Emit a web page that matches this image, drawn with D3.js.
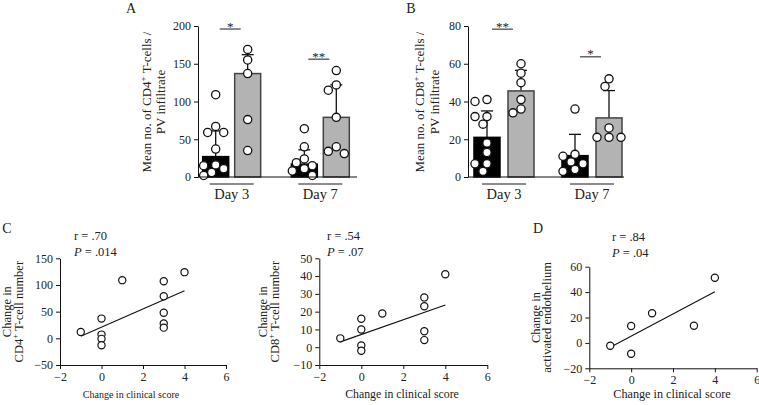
<!DOCTYPE html>
<html><head><meta charset="utf-8">
<script src="https://cdn.jsdelivr.net/npm/d3@7"></script>
<style>
body{margin:0;background:#fff}
svg{display:block}
svg text{font-family:"Liberation Serif","DejaVu Serif","Noto Serif",Times,serif !important;fill:#222}
</style>
</head><body>
<svg id="c" width="759" height="405" font-family="Liberation Serif, DejaVu Serif, serif"></svg>
<script>
// ---------- DATA ----------
const days = ["Day 3", "Day 7"];
const groups = ["ctrl", "trt"];

// Panel A (CD4+ T-cells / PV infiltrate)
const aTicks = [0, 50, 100, 150, 200];
const aCtrlMean = [27, 17];
const aCtrlSD = [34, 19];
const aTrtMean = [137, 79];
const aTrtSD = [25, 43];
const aCtrlPts = [[109, 67, 59, 59, 37, 16, 15, 11, 6, 2], [64, 40, 24, 19, 15, 11, 8, 2]];
const aTrtPts = [[169, 155, 137, 76, 35], [141, 122, 115, 79, 40, 34, 31]];
const aSigLabels = ["*", "**"];
const aSigValues = [196, 156];

// Panel B (CD8+ T-cells / PV infiltrate)
const bTicks = [0, 20, 40, 60, 80];
const bCtrlMean = [21, 11.3];
const bCtrlSD = [14, 11.3];
const bTrtMean = [45.6, 31.3];
const bTrtSD = [10.9, 14.5];
const bCtrlPts = [[41, 40, 32, 32, 28, 18, 13, 7, 7, 3], [36, 12, 11, 8, 7, 4, 3]];
const bTrtPts = [[60, 55, 50, 41, 36, 34], [52, 48, 26, 21, 21, 21]];
const bSigLabels = ["**", "*"];
const bSigValues = [78.3, 63.7];

// Scatter panels
const scatterXTicks = [-2, 0, 2, 4, 6];
const cX = [-1, 0, 0, 0, 0, 1, 3, 3, 3, 3, 3, 4];
const cY = [12, 37, 7, -1, -13, 109, 107, 79, 48, 28, 20, 124];
const cFitX = [-1, 4];
const cFitY = [4, 89];
const cTicks = [-50, 0, 50, 100, 150];

const mX = [-1, 0, 0, 0, 0, 1, 3, 3, 3, 3, 4];
const mY = [5, 16, 10, 1, -2, 19, 28, 23, 9, 4, 41];
const mFitX = [-1, 4];
const mFitY = [3, 23.7];
const mTicks = [-10, 0, 10, 20, 30, 40, 50];

const dX = [-1, 0, 0, 1, 3, 4];
const dY = [-2.3, -8.5, 13.3, 23.3, 13.5, 51.3];
const dFitX = [-1, 4];
const dFitY = [-3.5, 40.3];
const dTicks = [-20, 0, 20, 40, 60];

// ---------- DRAW ----------
const svg = d3.select("#c");
const TICK_FS = 12, BAR_LABEL_FS = 13, DAY_FS = 14.5, SC_LABEL_FS = 12.5;

function styleAxis(g) {
  g.attr("font-family", null).attr("font-size", null);
  g.selectAll("path,line").attr("stroke", "#111").attr("stroke-width", 1);
  g.selectAll("text").attr("font-size", TICK_FS).attr("fill", "#222");
}

function swarm(vals, y, cx, r) {
  const placed = [];
  const pts = vals.map(v => ({ v, py: y(v), px: null })).sort((a, b) => a.py - b.py);
  const offs = [0, -4, 4, -8, 8, -12, 12];
  for (const p of pts) {
    for (const o of offs) {
      const px = cx + o;
      if (placed.every(q => Math.hypot(q.px - px, q.py - p.py) >= 2 * r + 0.5)) { p.px = px; break; }
    }
    if (p.px === null) p.px = cx;
    placed.push(p);
  }
  return placed;
}

function rotLabel(x, y, parts, fs) {
  const t = svg.append("text").attr("transform", `translate(${x},${y}) rotate(-90)`)
    .attr("text-anchor", "middle").attr("font-size", fs);
  parts.forEach(p => {
    const s = t.append("tspan").text(p.t);
    if (p.sup) s.attr("font-size", fs * 0.7).attr("dy", -fs * 0.4);
    if (p.after) s.attr("dy", fs * 0.4);
  });
}

function barPanel(o) {
  const y = d3.scaleLinear().domain([0, o.yMax]).range([177, 26]);
  const x0 = d3.scaleBand().domain(days).range(o.xRange).paddingInner(o.pi).paddingOuter(o.po);
  const x1 = d3.scaleBand().domain(groups).range([0, x0.bandwidth()]).paddingInner(o.pi1);
  const g = svg.append("g");
  const mean = { ctrl: o.ctrlMean, trt: o.trtMean };
  const sd = { ctrl: o.ctrlSD, trt: o.trtSD };
  const pts = { ctrl: o.ctrlPts, trt: o.trtPts };

  days.forEach((d, i) => {
    groups.forEach(k => {
      const bx = x0(d) + x1(k), bw = x1.bandwidth(), cx = bx + bw / 2;
      const m = mean[k][i], top = m + sd[k][i];
      g.append("line").attr("x1", cx).attr("x2", cx).attr("y1", y(m)).attr("y2", y(top))
        .attr("stroke", "#111").attr("stroke-width", 1.3);
      g.append("line").attr("x1", cx - 6).attr("x2", cx + 6).attr("y1", y(top)).attr("y2", y(top))
        .attr("stroke", "#111").attr("stroke-width", 1.3);
      g.append("rect").attr("x", bx).attr("width", bw).attr("y", y(m)).attr("height", y(0) - y(m))
        .attr("fill", k === "ctrl" ? "#000" : "#b3b3b3")
        .attr("stroke", k === "ctrl" ? "#000" : "#444").attr("stroke-width", 1.5);
      const sw = swarm(pts[k][i], y, cx, 4);
      g.selectAll(null).data(sw).join("circle")
        .attr("cx", p => p.px).attr("cy", p => p.py).attr("r", 4.1)
        .attr("fill", "#fff").attr("stroke", "#111").attr("stroke-width", 1.3);
    });
    const gc = x0(d) + x0.bandwidth() / 2;
    g.append("line").attr("x1", gc - 22).attr("x2", gc + 22).attr("y1", 184).attr("y2", 184)
      .attr("stroke", "#666").attr("stroke-width", 1.5);
    g.append("text").attr("x", gc).attr("y", 199).attr("text-anchor", "middle")
      .attr("font-size", DAY_FS).text(d);
    const sy = y(o.sigValues[i]);
    g.append("line").attr("x1", gc - 12).attr("x2", gc + 9).attr("y1", sy).attr("y2", sy)
      .attr("stroke", "#666").attr("stroke-width", 1.5);
    g.append("text").attr("x", gc - 1.5).attr("y", sy + 1.5).attr("text-anchor", "middle")
      .attr("font-size", 13).attr("fill", "#444").text(o.sigLabels[i]);
  });
  g.append("line").attr("x1", o.axisX).attr("x2", o.baseEnd).attr("y1", y(0)).attr("y2", y(0))
    .attr("stroke", "#111").attr("stroke-width", 1.2);
  g.append("g").attr("transform", `translate(${o.axisX},0)`)
    .call(d3.axisLeft(y).tickValues(o.ticks).tickSize(4).tickSizeOuter(0).tickPadding(3))
    .call(styleAxis);
  rotLabel(o.lab1X, 102, [{ t: "Mean no. of " + o.cd }, { t: "+", sup: true }, { t: " T-cells /", after: true }], BAR_LABEL_FS);
  rotLabel(o.lab2X, 102, [{ t: "PV infiltrate" }], BAR_LABEL_FS);
  svg.append("text").attr("x", o.letterX).attr("y", 13).attr("text-anchor", "middle")
    .attr("font-size", 14).text(o.letter);
}

barPanel({
  yMax: 200, ticks: aTicks, xRange: [198, 354], pi: 0.346, po: 0.053, pi1: 0.1875,
  ctrlMean: aCtrlMean, ctrlSD: aCtrlSD, trtMean: aTrtMean, trtSD: aTrtSD,
  ctrlPts: aCtrlPts, trtPts: aTrtPts, sigLabels: aSigLabels, sigValues: aSigValues,
  axisX: 198, baseEnd: 357, cd: "CD4", lab1X: 151, lab2X: 165, letter: "A", letterX: 131
});
barPanel({
  yMax: 80, ticks: bTicks, xRange: [468, 628], pi: 0.318, po: 0.068, pi1: 0.235,
  ctrlMean: bCtrlMean, ctrlSD: bCtrlSD, trtMean: bTrtMean, trtSD: bTrtSD,
  ctrlPts: bCtrlPts, trtPts: bTrtPts, sigLabels: bSigLabels, sigValues: bSigValues,
  axisX: 468, baseEnd: 624, cd: "CD8", lab1X: 424, lab2X: 439, letter: "B", letterX: 411
});

function scatter(o) {
  const x = d3.scaleLinear().domain([-2, 6]).range(o.xRange);
  const y = d3.scaleLinear().domain(o.yDomain).range(o.yRange);
  const g = svg.append("g");
  g.append("g").attr("transform", `translate(0,${o.yRange[0]})`)
    .call(d3.axisBottom(x).tickValues(scatterXTicks).tickSize(4).tickSizeOuter(0).tickPadding(3))
    .call(styleAxis);
  g.append("g").attr("transform", `translate(${o.xRange[0]},0)`)
    .call(d3.axisLeft(y).tickValues(o.ticks).tickSize(4).tickSizeOuter(0).tickPadding(3))
    .call(styleAxis);
  g.append("path").datum(o.fitX.map((v, i) => [v, o.fitY[i]]))
    .attr("d", d3.line().x(d => x(d[0])).y(d => y(d[1])))
    .attr("stroke", "#111").attr("stroke-width", 1.1).attr("fill", "none");
  g.selectAll(null).data(o.xs.map((v, i) => [v, o.ys[i]])).join("circle")
    .attr("cx", d => x(d[0])).attr("cy", d => y(d[1])).attr("r", 3.6)
    .attr("fill", "#fff").attr("stroke", "#111").attr("stroke-width", 1.2);
  const ym = (o.yRange[0] + o.yRange[1]) / 2;
  rotLabel(o.lab1X, ym, [{ t: "Change in" }], SC_LABEL_FS);
  rotLabel(o.lab2X, ym, o.lab2, SC_LABEL_FS);
  svg.append("text").attr("x", o.xlabX).attr("y", 398).attr("text-anchor", "middle")
    .attr("font-size", o.xlabFS).text("Change in clinical score");
  svg.append("text").attr("x", o.statX).attr("y", o.statY).attr("font-size", SC_LABEL_FS).text(o.r);
  const pt = svg.append("text").attr("x", o.statX).attr("y", o.statY + 16).attr("font-size", SC_LABEL_FS);
  pt.append("tspan").attr("font-style", "italic").text("P");
  pt.append("tspan").text(" = " + o.p);
  if (o.letter) svg.append("text").attr("x", o.letterX).attr("y", 233).attr("text-anchor", "middle")
    .attr("font-size", 14).text(o.letter);
}

scatter({
  xRange: [60, 226], yDomain: [-50, 150], yRange: [365, 258.3], ticks: cTicks,
  xs: cX, ys: cY, fitX: cFitX, fitY: cFitY,
  lab1X: 11, lab2X: 23, lab2: [{ t: "CD4" }, { t: "+", sup: true }, { t: " T-cell number", after: true }],
  xlabX: 131, xlabFS: 10, statX: 74, statY: 240, r: "r = .70", p: ".014", letter: "C", letterX: 7
});
scatter({
  xRange: [319.3, 487.3], yDomain: [-10, 50], yRange: [365, 258.3], ticks: mTicks,
  xs: mX, ys: mY, fitX: mFitX, fitY: mFitY,
  lab1X: 267, lab2X: 279, lab2: [{ t: "CD8" }, { t: "+", sup: true }, { t: " T-cell number", after: true }],
  xlabX: 402, xlabFS: 11.8, statX: 327, statY: 240, r: "r = .54", p: ".07"
});
scatter({
  xRange: [589.3, 756.7], yDomain: [-20, 60], yRange: [368.3, 266.7], ticks: dTicks,
  xs: dX, ys: dY, fitX: dFitX, fitY: dFitY,
  lab1X: 540, lab2X: 551, lab2: [{ t: "activated endothelium" }],
  xlabX: 672, xlabFS: 12.2, statX: 612, statY: 241, r: "r = .84", p: ".04", letter: "D", letterX: 538
});
</script>
</body></html>
